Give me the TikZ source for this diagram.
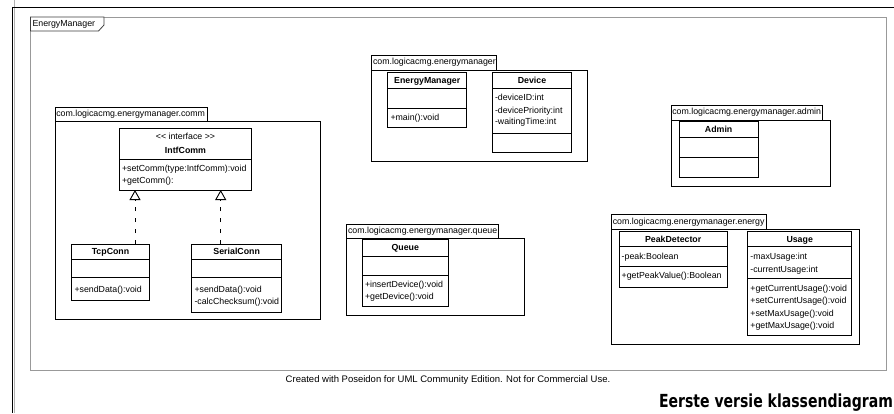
\documentclass[tikz,border=0pt]{standalone}
\usepackage{fontspec}
\usepackage{graphicx}
\setmainfont{Liberation Sans}
\newfontfamily\titlefont{DejaVu Sans}
\usetikzlibrary{arrows.meta}

\begin{document}
\begin{tikzpicture}[x=1pt, y=-1pt,
  umltext/.style={font=\fontsize{8.8}{10}\selectfont, inner sep=0pt, outer sep=0pt,
                  text height=6.3pt, text depth=1.8pt},
  member/.style={umltext, anchor=west},
  cname/.style={umltext, font=\fontsize{8.8}{10}\selectfont\bfseries},
  classbox/.style={draw=black, line width=0.9pt, fill=white, inner sep=0pt,
                   outer sep=0pt, anchor=north west},
  pkgbox/.style={draw=black, line width=0.9pt, fill=white, inner sep=0pt,
                 outer sep=0pt, anchor=north west},
  sepline/.style={draw=black, line width=0.9pt},
  realize/.style={draw=black, line width=0.9pt, dash pattern=on 4.5pt off 6.5pt,
                  -{Triangle[open, width=11pt, length=10pt, line width=0.9pt]}},
  framegrey/.style={draw=black!40, line width=1pt}
]
\useasboundingbox (0,0) rectangle (894,413);
\fill[white] (0,0) rectangle (894,413);

% page edges
\draw[draw=black!30, line width=1pt] (14.8,0) -- (14.8,413);
\draw[black, line width=1.2pt] (12.6,7.2) -- (894,7.2);
\draw[black, line width=1.2pt] (12.6,7.2) -- (12.6,413);

% diagram frame with its name tab
\node[framegrey, draw, inner sep=0pt, outer sep=0pt, anchor=north west,
      minimum width=855.5pt, minimum height=353.5pt] (frame) at (30.5,17) {};
\draw[draw=black!75, line width=0.8pt, fill=white]
  (30.5,17) -- (104,17) -- (104,25) -- (98.5,31) -- (30.5,31) -- cycle;
\node[member] (frametitle) at (32.5,24) {EnergyManager};

% ---------------- package comm ----------------
\node[pkgbox, minimum width=265pt, minimum height=198.3pt] (commbody) at (55,121) {};
\node[pkgbox, minimum width=152pt, minimum height=14pt] (commtab) at (55,107) {};
\node[member] (commlbl) at (56.3,114) {com.logicacmg.energymanager.comm};

% IntfComm
\node[classbox, minimum width=132.4pt, minimum height=61.7pt] (intf) at (119.3,128.3) {};
\node[umltext] (intfst) at (intf.north |- 0,137.7) {<{}< interface >{}>};
\node[cname] (intfname) at (intf.north |- 0,151) {IntfComm};
\draw[sepline] (intf.west |- 0,159.3) -- (intf.east |- 0,159.3);
\node[member] (intfo1) at (122,169.6) {+setComm(type:IntfComm):void};
\node[member] (intfo2) at (122,181.2) {+getComm():};

% TcpConn
\node[classbox, minimum width=77.6pt, minimum height=56.3pt] (tcp) at (71.7,244) {};
\node[cname] (tcpname) at (tcp.north |- 0,252.6) {TcpConn};
\draw[sepline] (tcp.west |- 0,259.3) -- (tcp.east |- 0,259.3);
\draw[sepline] (tcp.west |- 0,277.3) -- (tcp.east |- 0,277.3);
\node[member] (tcpo1) at (74.5,290.7) {+sendData():void};

% SerialConn
\node[classbox, minimum width=90pt, minimum height=68.7pt] (serial) at (191.7,244) {};
\node[cname] (serialname) at (serial.north |- 0,252.6) {SerialConn};
\draw[sepline] (serial.west |- 0,259.3) -- (serial.east |- 0,259.3);
\draw[sepline] (serial.west |- 0,277.3) -- (serial.east |- 0,277.3);
\node[member] (serialo1) at (194.5,290.7) {+sendData():void};
\node[member] (serialo2) at (194.5,302.7) {-calcChecksum():void};

% realizations of IntfComm
\coordinate (rtcp) at (135,0);
\coordinate (rserial) at (220.7,0);
\draw[realize] (tcp.north -| rtcp) -- (intf.south -| rtcp);
\draw[realize] (serial.north -| rserial) -- (intf.south -| rserial);

% ---------------- package energymanager ----------------
\node[pkgbox, minimum width=215.6pt, minimum height=91pt] (corebody) at (371.7,70) {};
\node[pkgbox, minimum width=125pt, minimum height=15pt] (coretab) at (371.7,55) {};
\node[member] (corelbl) at (373,62.5) {com.logicacmg.energymanager};

% EnergyManager
\node[classbox, minimum width=79pt, minimum height=55pt] (emgr) at (387.7,72.7) {};
\node[cname] (emgrname) at (emgr.north |- 0,81) {EnergyManager};
\draw[sepline] (emgr.west |- 0,88.3) -- (emgr.east |- 0,88.3);
\draw[sepline] (emgr.west |- 0,108.3) -- (emgr.east |- 0,108.3);
\node[member] (emgro1) at (390.5,118.3) {+main():void};

% Device
\node[classbox, minimum width=79.4pt, minimum height=79.3pt] (device) at (492.3,72.7) {};
\node[cname] (devicename) at (device.north |- 0,81) {Device};
\draw[sepline] (device.west |- 0,88.3) -- (device.east |- 0,88.3);
\node[member] (devicea1) at (495,98.5) {-deviceID:int};
\node[member] (devicea2) at (495,110.8) {-devicePriority:int};
\node[member] (devicea3) at (495,122.7) {-waitingTime:int};
\draw[sepline] (device.west |- 0,133.3) -- (device.east |- 0,133.3);

% ---------------- package queue ----------------
\node[pkgbox, minimum width=177.6pt, minimum height=76.7pt] (queuebody) at (346.7,238.3) {};
\node[pkgbox, minimum width=151.6pt, minimum height=14pt] (queuetab) at (346.7,224.3) {};
\node[member] (queuelbl) at (348,231.3) {com.logicacmg.energymanager.queue};

% Queue
\node[classbox, minimum width=86pt, minimum height=67.4pt] (queue) at (362.3,239.3) {};
\node[cname] (queuename) at (queue.north |- 0,248) {Queue};
\draw[sepline] (queue.west |- 0,256) -- (queue.east |- 0,256);
\draw[sepline] (queue.west |- 0,275) -- (queue.east |- 0,275);
\node[member] (queueo1) at (365,285.7) {+insertDevice():void};
\node[member] (queueo2) at (365,296.9) {+getDevice():void};

% ---------------- package admin ----------------
\node[pkgbox, minimum width=159.7pt, minimum height=66.7pt] (adminbody) at (671,120) {};
\node[pkgbox, minimum width=151.7pt, minimum height=15pt] (admintab) at (671,105) {};
\node[member] (adminlbl) at (672.3,112.5) {com.logicacmg.energymanager.admin};

% Admin
\node[classbox, minimum width=79.3pt, minimum height=56pt] (admin) at (679,121.7) {};
\node[cname] (adminname) at (admin.north |- 0,130.5) {Admin};
\draw[sepline] (admin.west |- 0,137.7) -- (admin.east |- 0,137.7);
\draw[sepline] (admin.west |- 0,157.7) -- (admin.east |- 0,157.7);

% ---------------- package energy ----------------
\node[pkgbox, minimum width=247.6pt, minimum height=115pt] (energybody) at (611.7,229.3) {};
\node[pkgbox, minimum width=155pt, minimum height=15pt] (energytab) at (611.7,214.3) {};
\node[member] (energylbl) at (612.8,221.8) {com.logicacmg.energymanager.energy};

% PeakDetector
\node[classbox, minimum width=108.3pt, minimum height=55.6pt] (peak) at (619,231.7) {};
\node[cname] (peakname) at (peak.north |- 0,240.5) {PeakDetector};
\draw[sepline] (peak.west |- 0,246.7) -- (peak.east |- 0,246.7);
\node[member] (peaka1) at (621.7,257.3) {-peak:Boolean};
\draw[sepline] (peak.west |- 0,266) -- (peak.east |- 0,266);
\node[member] (peako1) at (621.7,276.7) {+getPeakValue():Boolean};

% Usage
\node[classbox, minimum width=104pt, minimum height=104pt] (usage) at (747.7,231.7) {};
\node[cname] (usagename) at (usage.north |- 0,240.5) {Usage};
\draw[sepline] (usage.west |- 0,246.7) -- (usage.east |- 0,246.7);
\node[member] (usagea1) at (750.4,257.3) {-maxUsage:int};
\node[member] (usagea2) at (750.4,270) {-currentUsage:int};
\draw[sepline] (usage.west |- 0,278.3) -- (usage.east |- 0,278.3);
\node[member] (usageo1) at (750.4,289.3) {+getCurrentUsage():void};
\node[member] (usageo2) at (750.4,301.7) {+setCurrentUsage():void};
\node[member] (usageo3) at (750.4,314.2) {+setMaxUsage():void};
\node[member] (usageo4) at (750.4,326.7) {+getMaxUsage():void};

% footer notes
\node[umltext, font=\fontsize{9.5}{11}\selectfont] (credit) at (448,380.5)
  {Created with Poseidon for UML Community Edition. Not for Commercial Use.};
\node[inner sep=0pt, outer sep=0pt, anchor=base east] (caption) at (893,407.5)
  {\scalebox{0.78}[1]{\titlefont\bfseries\fontsize{18}{20}\selectfont Eerste versie klassendiagram}};
\end{tikzpicture}
\end{document}
